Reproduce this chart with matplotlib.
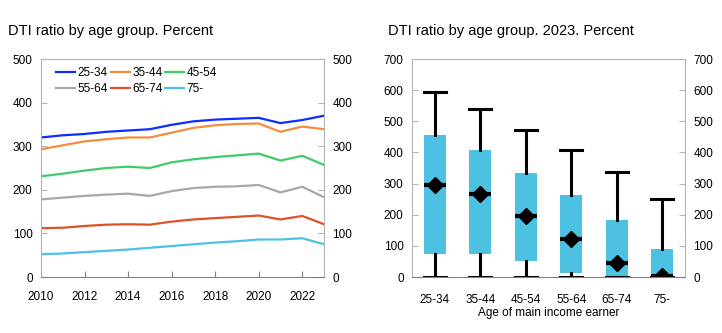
import matplotlib
matplotlib.use("Agg")
import matplotlib.pyplot as plt

plt.rcParams['font.family'] = ['Liberation Sans', 'DejaVu Sans']

# left panel: DTI ratio by age group over time
years = list(range(2010, 2024))
dti_25_34 = [320, 325, 328, 333, 336, 339, 349, 357, 361, 363, 365, 353, 360, 370]
dti_35_44 = [293, 302, 311, 316, 320, 320, 331, 342, 348, 351, 352, 333, 345, 339]
dti_45_54 = [231, 237, 244, 250, 253, 250, 263, 270, 275, 279, 283, 267, 278, 257]
dti_55_64 = [178, 182, 186, 189, 191, 186, 197, 204, 207, 208, 211, 194, 207, 183]
dti_65_74 = [112, 113, 117, 120, 121, 120, 127, 132, 135, 138, 141, 132, 140, 121]
dti_75 = [52, 54, 57, 60, 63, 67, 71, 75, 79, 82, 86, 86, 89, 75]

series_labels = ['25-34', '35-44', '45-54', '55-64', '65-74', '75-']
series_colors = ['#0B2DFF', '#F58B3F', '#3FCB67', '#A8A8A8', '#E0502A', '#4DC0E8']

# right panel: distribution in 2023
age_groups = ['25-34', '35-44', '45-54', '55-64', '65-74', '75-']
whisker_low = [0, 0, 0, 0, 0, 0]
q1 = [75, 73, 51, 13, 0, 0]
median = [297, 266, 197, 121, 45, 2]
q3 = [455, 407, 335, 263, 182, 91]
whisker_high = [593, 538, 472, 407, 337, 252]

fig = plt.figure(figsize=(7.22, 3.33), dpi=100)
ax1 = fig.add_axes([41/722, 1-277/333, (324-41)/722, (277-59)/333])
ax2 = fig.add_axes([412/722, 1-277/333, (685-412)/722, (277-59)/333])

spine_col = '#B4B4B4'


def style_axes(ax):
    for s in ax.spines.values():
        s.set_color(spine_col)
        s.set_linewidth(0.8)
    ax.spines['bottom'].set_color('#808080')
    ax.tick_params(direction='in', length=4, color=spine_col, labelsize=8.5,
                   right=True, labelright=True, pad=6)
    ax.tick_params(axis='x', color='#808080', pad=10)


# left chart
all_series = [dti_25_34, dti_35_44, dti_45_54, dti_55_64, dti_65_74, dti_75]
handles = []
for vals, lab, col in zip(all_series, series_labels, series_colors):
    h, = ax1.plot(years, vals, color=col, lw=1.6, label=lab)
    handles.append(h)
ax1.set_xlim(2010, 2023)
ax1.set_ylim(0, 500)
ax1.set_xticks(range(2010, 2023, 2))
ax1.set_yticks(range(0, 501, 100))
style_axes(ax1)
# legend filled row by row
order = [0, 3, 1, 4, 2, 5]
ax1.legend([handles[i] for i in order], [series_labels[i] for i in order],
           ncol=3, loc='upper left', frameon=False, fontsize=8.5,
           handlelength=1.6, handletextpad=0.2, columnspacing=0.25,
           labelspacing=0.3, bbox_to_anchor=(0.025, 1.0), borderaxespad=0.3)

# right chart
stats = []
for i, g in enumerate(age_groups):
    stats.append(dict(label=g, whislo=whisker_low[i], q1=q1[i], med=median[i],
                      q3=q3[i], whishi=whisker_high[i], mean=median[i], fliers=[]))
box_col = '#4DC1E2'
ax2.bxp(stats, positions=range(1, 7), widths=0.48, capwidths=0.48,
        patch_artist=True, showmeans=True, showfliers=False,
        boxprops=dict(facecolor=box_col, edgecolor=box_col, lw=0),
        whiskerprops=dict(color='black', lw=2.2),
        capprops=dict(color='black', lw=2.2),
        medianprops=dict(color='black', lw=3),
        meanprops=dict(marker='D', markerfacecolor='black', markeredgecolor='black',
                       markersize=8))
ax2.set_xlim(0.5, 6.5)
ax2.set_ylim(0, 700)
ax2.set_yticks(range(0, 701, 100))
style_axes(ax2)
ax2.tick_params(axis='x', length=0, pad=12)
ax2.set_xlabel('Age of main income earner', fontsize=8.5, labelpad=1)

fig.text(8/722, 1-31/333, 'DTI ratio by age group. Percent', fontsize=10.5, va='center')
fig.text(388/722, 1-31/333, 'DTI ratio by age group. 2023. Percent', fontsize=10.5, va='center')

fig.savefig('out.png', dpi=100)
